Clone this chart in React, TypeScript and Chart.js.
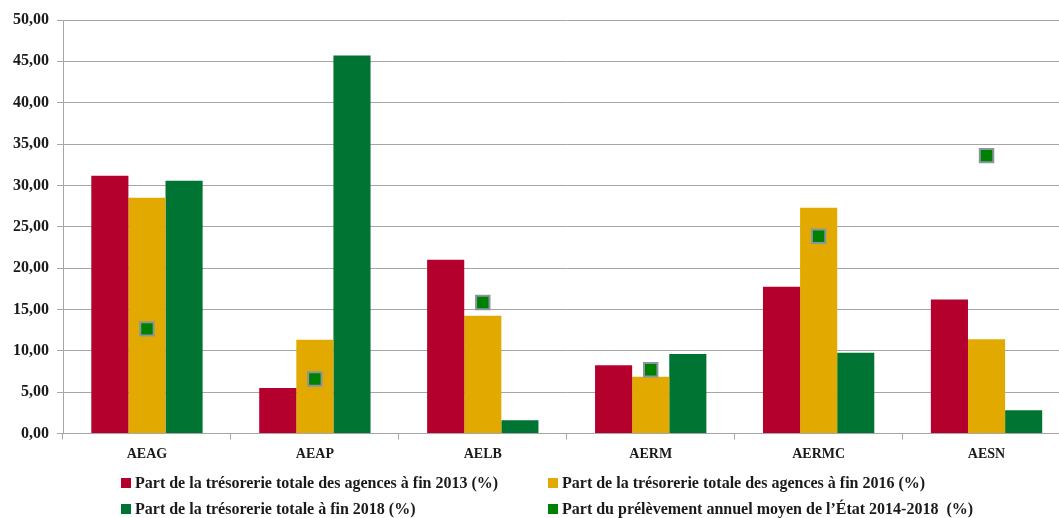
import React, { useEffect, useRef } from "react";
import { Chart, registerables } from "chart.js";

Chart.register(...registerables);

const categories = ["AEAG", "AEAP", "AELB", "AERM", "AERMC", "AESN"];
const treso2013 = [31.17, 5.5, 21.0, 8.25, 17.75, 16.2];
const treso2016 = [28.5, 11.35, 14.25, 6.85, 27.3, 11.4];
const treso2018 = [30.57, 45.7, 1.6, 9.6, 9.75, 2.8];
const prelevement = [12.65, 6.6, 15.85, 7.7, 23.85, 33.6];

const labels = [
  "Part de la trésorerie totale des agences à fin 2013 (%)",
  "Part de la trésorerie totale des agences à fin 2016 (%)",
  "Part de la trésorerie totale à fin 2018 (%)",
  "Part du prélèvement annuel moyen de l’État 2014-2018  (%)",
];

const RED = "#B4002C";
const GOLD = "#E2AA00";
const GREEN = "#007533";
const MARK = "#008000";
const FONT = "'Liberation Serif', serif";

export default function App() {
  const ref = useRef<HTMLCanvasElement | null>(null);
  useEffect(() => {
    if (!ref.current) return;
    const chart = new Chart(ref.current, {
      type: "bar",
      data: {
        labels: categories,
        datasets: [
          {
            type: "line",
            label: labels[3],
            data: prelevement,
            showLine: false,
            pointStyle: "rect",
            pointRadius: 9.5,
            pointBackgroundColor: MARK,
            pointBorderColor: "#8896A0",
            pointBorderWidth: 2,
            backgroundColor: MARK,
            borderColor: MARK,
            order: 0,
          } as any,
          { label: labels[0], data: treso2013, backgroundColor: RED, order: 1 },
          { label: labels[1], data: treso2016, backgroundColor: GOLD, order: 1 },
          { label: labels[2], data: treso2018, backgroundColor: GREEN, order: 1 },
        ],
      },
      options: {
        responsive: false,
        animation: false,
        datasets: { bar: { categoryPercentage: 0.663, barPercentage: 1 } },
        layout: { padding: { top: 20, right: 0, left: 0, bottom: 0 } },
        plugins: { legend: { display: false }, tooltip: { enabled: false } },
        scales: {
          x: {
            offset: true,
            grid: { display: true, drawOnChartArea: false, tickLength: 6, color: "#A6A6A6" },
            border: { color: "#A6A6A6" },
            ticks: { color: "#1a1a1a", padding: 6, font: { family: FONT, size: 14, weight: "bold" } },
            afterFit: (s: any) => { s.height = 518 - 433.5; },
          },
          y: {
            min: 0,
            max: 50,
            grid: { color: "#A6A6A6", tickLength: 6 },
            border: { color: "#A6A6A6" },
            ticks: {
              stepSize: 5,
              color: "#1a1a1a",
              padding: 8,
              font: { family: FONT, size: 16, weight: "bold" },
              callback: (v: any) => Number(v).toFixed(2).replace(".", ","),
            },
            afterFit: (s: any) => { s.width = 63; },
          },
        },
      },
    });
    return () => chart.destroy();
  }, []);

  const sq = (c: string) => ({
    display: "inline-block",
    width: 10,
    height: 10,
    background: c,
    marginRight: 4,
  });
  const item = (left: number, top: number, c: string, t: string) => (
    <div
      style={{
        position: "absolute",
        left,
        top,
        display: "flex",
        alignItems: "center",
        whiteSpace: "pre",
        fontFamily: FONT,
        fontWeight: "bold",
        fontSize: 16,
        color: "#1a1a1a",
        lineHeight: "18px",
      }}
    >
      <span style={sq(c)} />
      <span>{t}</span>
    </div>
  );

  return (
    <div style={{ position: "fixed", left: 0, top: 0, width: 1082, height: 518, overflow: "hidden", background: "#fff" }}>
      <canvas ref={ref} width={1082} height={518} style={{ position: "absolute", left: 0, top: 0, width: 1082, height: 518 }} />
      {item(121, 474, RED, labels[0])}
      {item(548, 474, GOLD, labels[1])}
      {item(121, 500, GREEN, labels[2])}
      {item(548, 500, MARK, labels[3])}
    </div>
  );
}
